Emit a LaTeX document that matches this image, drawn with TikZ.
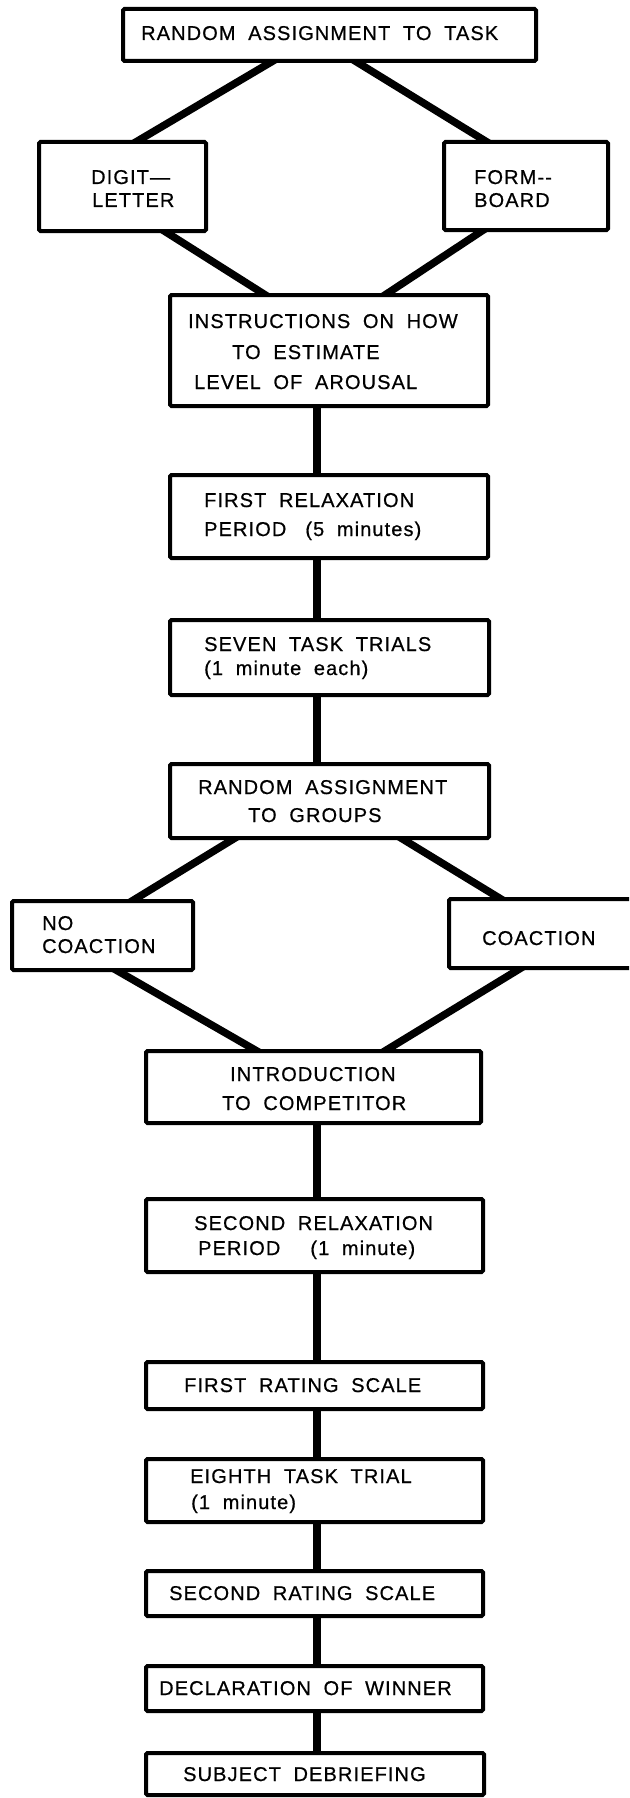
\documentclass[tikz,border=0pt]{standalone}
\usepackage{fontspec}
\newfontfamily\lbfont[LetterSpace=5.5,WordSpace=1.9,FakeBold=0.6]{Liberation Sans}
\usetikzlibrary{calc,backgrounds}
\begin{document}
\begin{tikzpicture}[x=1pt,y=-1pt,
  box/.style={draw,fill=white,line width=4pt,rounded corners=1.5pt,inner sep=0pt,outer sep=0pt},
  conn/.style={line width=7.5pt,shorten <=-3pt,shorten >=-3pt},
  lbl/.style={anchor=base west,inner sep=0pt,font=\lbfont\fontsize{20}{24}\selectfont}]
\useasboundingbox (0,0) rectangle (629,1798);
\clip (0,0) rectangle (629,1798);
\coordinate (spine) at (317,0);
% boxes
\node[box,minimum width=413pt,minimum height=52pt] (T) at (329.5,35) {};
\node[box,minimum width=167pt,minimum height=89pt] (D) at (122.5,186.5) {};
\node[box,minimum width=164pt,minimum height=88pt] (F) at (526,186) {};
\node[box,minimum width=318pt,minimum height=111pt] (I) at (329,350.5) {};
\node[box,minimum width=318pt,minimum height=83pt] (R1) at (329,516.5) {};
\node[box,minimum width=319pt,minimum height=75pt] (S) at (329.5,657.5) {};
\node[box,minimum width=319pt,minimum height=74pt] (G) at (329.5,801) {};
\node[box,minimum width=181pt,minimum height=69pt] (N) at (102.5,935.5) {};
\node[box,minimum width=191pt,minimum height=69pt] (C) at (544.5,933.5) {};
\node[box,minimum width=335pt,minimum height=72pt] (In) at (313.5,1087) {};
\node[box,minimum width=337pt,minimum height=73pt] (R2) at (314.5,1235.5) {};
\node[box,minimum width=337pt,minimum height=47pt] (Ra1) at (314.5,1385.5) {};
\node[box,minimum width=337pt,minimum height=63pt] (E) at (314.5,1490.5) {};
\node[box,minimum width=337pt,minimum height=45pt] (Ra2) at (314.5,1593.5) {};
\node[box,minimum width=337pt,minimum height=45pt] (De) at (314.5,1688.5) {};
\node[box,minimum width=338pt,minimum height=42pt] (SD) at (315,1774) {};
% connectors
\begin{scope}[on background layer]
\draw[conn] ($(T.south west)!0.363!(T.south east)$) -- ($(D.north west)!0.58!(D.north east)$);
\draw[conn] ($(T.south west)!0.562!(T.south east)$) -- ($(F.north west)!0.262!(F.north east)$);
\draw[conn] ($(D.south west)!0.75!(D.south east)$) -- ($(I.north west)!0.30!(I.north east)$);
\draw[conn] ($(F.south west)!0.24!(F.south east)$) -- ($(I.north west)!0.676!(I.north east)$);
\draw[conn] (I.south -| spine) -- (R1.north -| spine);
\draw[conn] (R1.south -| spine) -- (S.north -| spine);
\draw[conn] (S.south -| spine) -- (G.north -| spine);
\draw[conn] ($(G.south west)!0.204!(G.south east)$) -- ($(N.north west)!0.663!(N.north east)$);
\draw[conn] ($(G.south west)!0.724!(G.south east)$) -- ($(C.north west)!0.272!(C.north east)$);
\draw[conn] ($(N.south west)!0.575!(N.south east)$) -- ($(In.north west)!0.331!(In.north east)$);
\draw[conn] ($(C.south west)!0.377!(C.south east)$) -- ($(In.north west)!0.713!(In.north east)$);
\draw[conn] (In.south -| spine) -- (R2.north -| spine);
\draw[conn] (R2.south -| spine) -- (Ra1.north -| spine);
\draw[conn] (Ra1.south -| spine) -- (E.north -| spine);
\draw[conn] (E.south -| spine) -- (Ra2.north -| spine);
\draw[conn] (Ra2.south -| spine) -- (De.north -| spine);
\draw[conn] (De.south -| spine) -- (SD.north -| spine);
\end{scope}
% labels
\node[lbl] (tT) at (141,40) {RANDOM ASSIGNMENT TO TASK};
\node[lbl] (tD1) at (91,184) {DIGIT—};
\node[lbl] (tD2) at (92,207) {LETTER};
\node[lbl] (tF1) at (474,184) {FORM-{}-};
\node[lbl] (tF2) at (474,207) {BOARD};
\node[lbl] (tI1) at (188,328) {INSTRUCTIONS ON HOW};
\node[lbl] (tI2) at (232,359) {TO ESTIMATE};
\node[lbl] (tI3) at (194,389) {LEVEL OF AROUSAL};
\node[lbl] (tR1a) at (204,507) {FIRST RELAXATION};
\node[lbl] (tR1b) at (204,536) {PERIOD\hspace{19pt}(5 minutes)};
\node[lbl] (tS1) at (204,651) {SEVEN TASK TRIALS};
\node[lbl] (tS2) at (204,675) {(1 minute each)};
\node[lbl] (tG1) at (198,794) {RANDOM ASSIGNMENT};
\node[lbl] (tG2) at (248,822) {TO GROUPS};
\node[lbl] (tN1) at (42,930) {NO};
\node[lbl] (tN2) at (42,953) {COACTION};
\node[lbl] (tC) at (482,945) {COACTION};
\node[lbl] (tIn1) at (230,1081) {INTRODUCTION};
\node[lbl] (tIn2) at (222,1110) {TO COMPETITOR};
\node[lbl] (tR2a) at (194,1230) {SECOND RELAXATION};
\node[lbl] (tR2b) at (198,1255) {PERIOD\hspace{30pt}(1 minute)};
\node[lbl] (tRa1) at (184,1392) {FIRST RATING SCALE};
\node[lbl] (tE1) at (190,1483) {EIGHTH TASK TRIAL};
\node[lbl] (tE2) at (191,1509) {(1 minute)};
\node[lbl] (tRa2) at (169,1600) {SECOND RATING SCALE};
\node[lbl] (tDe) at (159,1695) {DECLARATION OF WINNER};
\node[lbl] (tSD) at (183,1781) {SUBJECT DEBRIEFING};
\end{tikzpicture}
\end{document}
